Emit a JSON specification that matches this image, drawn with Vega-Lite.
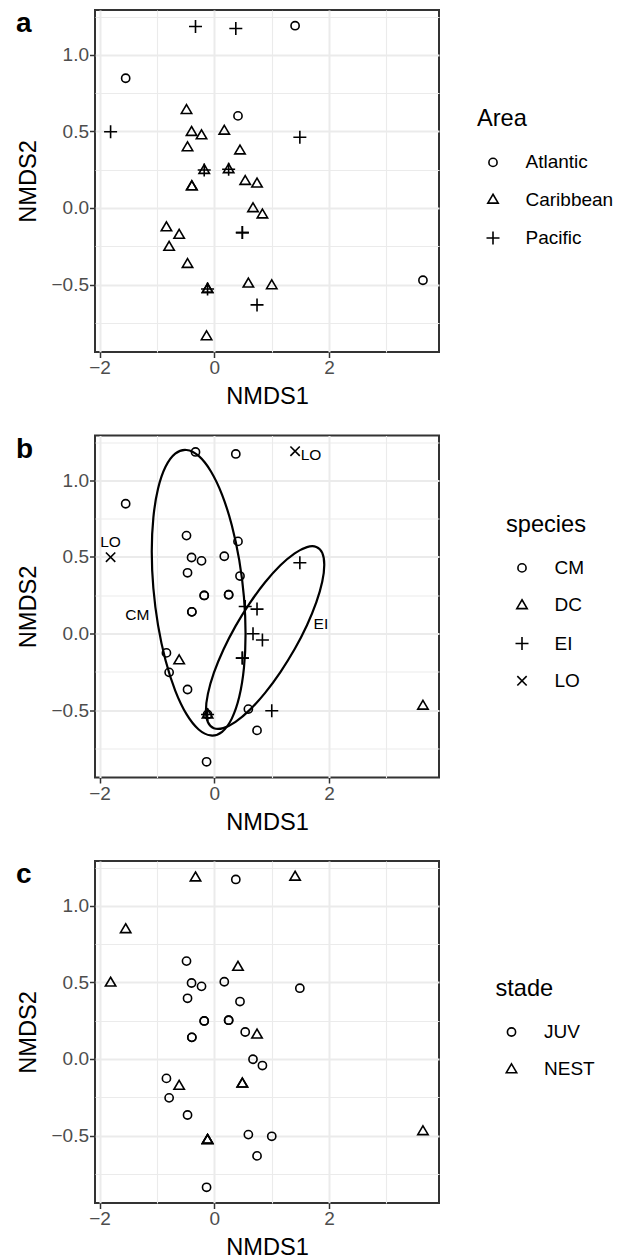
{
  "$schema": "https://vega.github.io/schema/vega-lite/v6.json",
  "background": "white",
  "padding": {"left": 15, "top": 6, "right": 0, "bottom": 0},
  "spacing": 21.5,
  "datasets": {
    "pts": [
      {"x": -0.327, "y": 1.185, "area": "Pacific", "species": "CM", "stade": "NEST"},
      {"x": 0.376, "y": 1.172, "area": "Pacific", "species": "CM", "stade": "JUV"},
      {"x": 1.41, "y": 1.19, "area": "Atlantic", "species": "LO", "stade": "NEST"},
      {"x": -1.545, "y": 0.847, "area": "Atlantic", "species": "CM", "stade": "NEST"},
      {"x": -1.808, "y": 0.498, "area": "Pacific", "species": "LO", "stade": "NEST"},
      {"x": -0.484, "y": 0.639, "area": "Caribbean", "species": "CM", "stade": "JUV"},
      {"x": 0.414, "y": 0.601, "area": "Atlantic", "species": "CM", "stade": "NEST"},
      {"x": -0.396, "y": 0.496, "area": "Caribbean", "species": "CM", "stade": "JUV"},
      {"x": -0.222, "y": 0.474, "area": "Caribbean", "species": "CM", "stade": "JUV"},
      {"x": 0.175, "y": 0.504, "area": "Caribbean", "species": "CM", "stade": "JUV"},
      {"x": 1.493, "y": 0.462, "area": "Pacific", "species": "EI", "stade": "JUV"},
      {"x": -0.466, "y": 0.396, "area": "Caribbean", "species": "CM", "stade": "JUV"},
      {"x": 0.449, "y": 0.375, "area": "Caribbean", "species": "CM", "stade": "JUV"},
      {"x": -0.175, "y": 0.248, "area": "Caribbean", "species": "CM", "stade": "JUV"},
      {"x": -0.175, "y": 0.248, "area": "Pacific", "species": "CM", "stade": "JUV"},
      {"x": 0.251, "y": 0.253, "area": "Caribbean", "species": "CM", "stade": "JUV"},
      {"x": 0.251, "y": 0.253, "area": "Pacific", "species": "CM", "stade": "JUV"},
      {"x": -0.391, "y": 0.141, "area": "Caribbean", "species": "CM", "stade": "JUV"},
      {"x": -0.391, "y": 0.141, "area": "Caribbean", "species": "CM", "stade": "JUV"},
      {"x": 0.54, "y": 0.176, "area": "Caribbean", "species": "EI", "stade": "JUV"},
      {"x": 0.746, "y": 0.159, "area": "Caribbean", "species": "EI", "stade": "NEST"},
      {"x": 0.676, "y": -0.002, "area": "Caribbean", "species": "EI", "stade": "JUV"},
      {"x": 0.84, "y": -0.043, "area": "Caribbean", "species": "EI", "stade": "JUV"},
      {"x": 0.49, "y": -0.161, "area": "Pacific", "species": "EI", "stade": "NEST"},
      {"x": 0.49, "y": -0.161, "area": "Pacific", "species": "EI", "stade": "NEST"},
      {"x": -0.834, "y": -0.127, "area": "Caribbean", "species": "CM", "stade": "JUV"},
      {"x": -0.612, "y": -0.176, "area": "Caribbean", "species": "DC", "stade": "NEST"},
      {"x": -0.787, "y": -0.254, "area": "Caribbean", "species": "CM", "stade": "JUV"},
      {"x": -0.466, "y": -0.366, "area": "Caribbean", "species": "CM", "stade": "JUV"},
      {"x": -0.117, "y": -0.529, "area": "Caribbean", "species": "CM", "stade": "NEST"},
      {"x": -0.117, "y": -0.529, "area": "Caribbean", "species": "DC", "stade": "NEST"},
      {"x": -0.117, "y": -0.529, "area": "Pacific", "species": "EI", "stade": "NEST"},
      {"x": 0.595, "y": -0.494, "area": "Caribbean", "species": "CM", "stade": "JUV"},
      {"x": 1.003, "y": -0.505, "area": "Caribbean", "species": "EI", "stade": "JUV"},
      {"x": 0.746, "y": -0.633, "area": "Pacific", "species": "CM", "stade": "JUV"},
      {"x": -0.134, "y": -0.838, "area": "Caribbean", "species": "CM", "stade": "JUV"},
      {"x": 3.64, "y": -0.472, "area": "Atlantic", "species": "DC", "stade": "NEST"}
    ],
    "ell": [
      {"grp": "CM", "i": 0, "x": 0.546, "y": -0.003},
      {"grp": "CM", "i": 1, "x": 0.518, "y": -0.225},
      {"grp": "CM", "i": 2, "x": 0.436, "y": -0.414},
      {"grp": "CM", "i": 3, "x": 0.306, "y": -0.556},
      {"grp": "CM", "i": 4, "x": 0.137, "y": -0.642},
      {"grp": "CM", "i": 5, "x": -0.06, "y": -0.666},
      {"grp": "CM", "i": 6, "x": -0.272, "y": -0.627},
      {"grp": "CM", "i": 7, "x": -0.484, "y": -0.527},
      {"grp": "CM", "i": 8, "x": -0.681, "y": -0.373},
      {"grp": "CM", "i": 9, "x": -0.85, "y": -0.175},
      {"grp": "CM", "i": 10, "x": -0.98, "y": 0.053},
      {"grp": "CM", "i": 11, "x": -1.062, "y": 0.295},
      {"grp": "CM", "i": 12, "x": -1.09, "y": 0.535},
      {"grp": "CM", "i": 13, "x": -1.062, "y": 0.757},
      {"grp": "CM", "i": 14, "x": -0.98, "y": 0.946},
      {"grp": "CM", "i": 15, "x": -0.85, "y": 1.088},
      {"grp": "CM", "i": 16, "x": -0.681, "y": 1.174},
      {"grp": "CM", "i": 17, "x": -0.484, "y": 1.198},
      {"grp": "CM", "i": 18, "x": -0.272, "y": 1.159},
      {"grp": "CM", "i": 19, "x": -0.06, "y": 1.059},
      {"grp": "CM", "i": 20, "x": 0.137, "y": 0.905},
      {"grp": "CM", "i": 21, "x": 0.306, "y": 0.707},
      {"grp": "CM", "i": 22, "x": 0.436, "y": 0.479},
      {"grp": "CM", "i": 23, "x": 0.518, "y": 0.237},
      {"grp": "EI", "i": 0, "x": 1.919, "y": 0.449},
      {"grp": "EI", "i": 1, "x": 1.884, "y": 0.339},
      {"grp": "EI", "i": 2, "x": 1.781, "y": 0.204},
      {"grp": "EI", "i": 3, "x": 1.617, "y": 0.054},
      {"grp": "EI", "i": 4, "x": 1.403, "y": -0.102},
      {"grp": "EI", "i": 5, "x": 1.154, "y": -0.252},
      {"grp": "EI", "i": 6, "x": 0.887, "y": -0.388},
      {"grp": "EI", "i": 7, "x": 0.62, "y": -0.499},
      {"grp": "EI", "i": 8, "x": 0.371, "y": -0.577},
      {"grp": "EI", "i": 9, "x": 0.157, "y": -0.618},
      {"grp": "EI", "i": 10, "x": -0.007, "y": -0.619},
      {"grp": "EI", "i": 11, "x": -0.11, "y": -0.58},
      {"grp": "EI", "i": 12, "x": -0.145, "y": -0.503},
      {"grp": "EI", "i": 13, "x": -0.11, "y": -0.393},
      {"grp": "EI", "i": 14, "x": -0.007, "y": -0.258},
      {"grp": "EI", "i": 15, "x": 0.157, "y": -0.108},
      {"grp": "EI", "i": 16, "x": 0.371, "y": 0.048},
      {"grp": "EI", "i": 17, "x": 0.62, "y": 0.198},
      {"grp": "EI", "i": 18, "x": 0.887, "y": 0.334},
      {"grp": "EI", "i": 19, "x": 1.154, "y": 0.445},
      {"grp": "EI", "i": 20, "x": 1.403, "y": 0.523},
      {"grp": "EI", "i": 21, "x": 1.617, "y": 0.564},
      {"grp": "EI", "i": 22, "x": 1.781, "y": 0.565},
      {"grp": "EI", "i": 23, "x": 1.884, "y": 0.526}
    ],
    "lab": [
      {"x": -1.808, "y": 0.598, "lab": "LO"},
      {"x": 1.688, "y": 1.163, "lab": "LO"},
      {"x": -1.341, "y": 0.12, "lab": "CM"},
      {"x": 1.86, "y": 0.063, "lab": "EI"}
    ]
  },
  "vconcat": [
    {
      "width": 344,
      "height": 342,
      "title": {"text": "a", "orient": "none", "anchor": "start", "frame": "group", "dx": -79, "dy": 22, "offset": 0, "baseline": "alphabetic"},
      "data": {"name": "pts"},
      "mark": {"type": "point", "filled": false, "color": "black", "strokeWidth": 1.6, "size": 169, "opacity": 1},
      "encoding": {
        "x": {"field": "x", "type": "quantitative", "title": "NMDS1",
          "scale": {"domain": [-2.08, 3.92], "nice": false, "zero": false},
          "axis": {"values": [-2, -1, 0, 1, 2, 3], "format": "d",
            "labelExpr": "datum.value % 2 === 0 ? datum.label : ''",
            "gridWidth": {"condition": {"test": "datum.value % 2 !== 0", "value": 1.1}, "value": 2},
            "tickOpacity": {"condition": {"test": "datum.value % 2 !== 0", "value": 0}, "value": 1}}},
        "y": {"field": "y", "type": "quantitative", "title": "NMDS2",
          "scale": {"domain": [-0.9405, 1.2925], "nice": false, "zero": false},
          "axis": {"values": [-0.75, -0.5, -0.25, 0, 0.25, 0.5, 0.75, 1, 1.25], "format": ".1f",
            "labelExpr": "abs(datum.value*2 - round(datum.value*2)) < 0.01 ? datum.label : ''",
            "gridWidth": {"condition": {"test": "abs(datum.value*2 - round(datum.value*2)) > 0.01", "value": 1.1}, "value": 2},
            "tickOpacity": {"condition": {"test": "abs(datum.value*2 - round(datum.value*2)) > 0.01", "value": 0}, "value": 1}}},
        "shape": {"field": "area", "type": "nominal",
          "scale": {"range": ["M0.63,0A0.63,0.63,0,1,1,-0.63,0A0.63,0.63,0,1,1,0.63,0Z", "M0,-0.84L0.8,0.52L-0.8,0.52Z", "M-1,0L1,0M0,-1L0,1"]},
          "legend": {"title": "Area", "legendX": 382, "legendY": 97}}
      }
    },
    {
      "width": 344,
      "height": 342,
      "title": {"text": "b", "orient": "none", "anchor": "start", "frame": "group", "dx": -79, "dy": 22, "offset": 0, "baseline": "alphabetic"},
      "encoding": {
        "x": {"field": "x", "type": "quantitative", "title": "NMDS1",
          "scale": {"domain": [-2.08, 3.92], "nice": false, "zero": false},
          "axis": {"values": [-2, -1, 0, 1, 2, 3], "format": "d",
            "labelExpr": "datum.value % 2 === 0 ? datum.label : ''",
            "gridWidth": {"condition": {"test": "datum.value % 2 !== 0", "value": 1.1}, "value": 2},
            "tickOpacity": {"condition": {"test": "datum.value % 2 !== 0", "value": 0}, "value": 1}}},
        "y": {"field": "y", "type": "quantitative", "title": "NMDS2",
          "scale": {"domain": [-0.9405, 1.2925], "nice": false, "zero": false},
          "axis": {"values": [-0.75, -0.5, -0.25, 0, 0.25, 0.5, 0.75, 1, 1.25], "format": ".1f",
            "labelExpr": "abs(datum.value*2 - round(datum.value*2)) < 0.01 ? datum.label : ''",
            "gridWidth": {"condition": {"test": "abs(datum.value*2 - round(datum.value*2)) > 0.01", "value": 1.1}, "value": 2},
            "tickOpacity": {"condition": {"test": "abs(datum.value*2 - round(datum.value*2)) > 0.01", "value": 0}, "value": 1}}}
      },
      "layer": [
        {
          "data": {"name": "pts"},
          "mark": {"type": "point", "filled": false, "color": "black", "strokeWidth": 1.6, "size": 169, "opacity": 1},
          "encoding": {
            "shape": {"field": "species", "type": "nominal",
              "scale": {"range": ["M0.63,0A0.63,0.63,0,1,1,-0.63,0A0.63,0.63,0,1,1,0.63,0Z", "M0,-0.84L0.8,0.52L-0.8,0.52Z", "M-1,0L1,0M0,-1L0,1", "M-0.72,-0.72L0.72,0.72M-0.72,0.72L0.72,-0.72"]},
              "legend": {"title": "species", "legendX": 411, "legendY": 77}}
          }
        },
        {
          "data": {"name": "ell"},
          "mark": {"type": "line", "interpolate": "cardinal-closed", "color": "black", "strokeWidth": 2.2},
          "encoding": {
            "detail": {"field": "grp", "type": "nominal"},
            "order": {"field": "i", "type": "quantitative"}
          }
        },
        {
          "data": {"name": "lab"},
          "mark": {"type": "text", "font": "Liberation Sans", "fontSize": 15.5, "color": "black"},
          "encoding": {"text": {"field": "lab", "type": "nominal"}}
        }
      ]
    },
    {
      "width": 344,
      "height": 342,
      "title": {"text": "c", "orient": "none", "anchor": "start", "frame": "group", "dx": -79, "dy": 22, "offset": 0, "baseline": "alphabetic"},
      "data": {"name": "pts"},
      "mark": {"type": "point", "filled": false, "color": "black", "strokeWidth": 1.6, "size": 169, "opacity": 1},
      "encoding": {
        "x": {"field": "x", "type": "quantitative", "title": "NMDS1",
          "scale": {"domain": [-2.08, 3.92], "nice": false, "zero": false},
          "axis": {"values": [-2, -1, 0, 1, 2, 3], "format": "d",
            "labelExpr": "datum.value % 2 === 0 ? datum.label : ''",
            "gridWidth": {"condition": {"test": "datum.value % 2 !== 0", "value": 1.1}, "value": 2},
            "tickOpacity": {"condition": {"test": "datum.value % 2 !== 0", "value": 0}, "value": 1}}},
        "y": {"field": "y", "type": "quantitative", "title": "NMDS2",
          "scale": {"domain": [-0.9405, 1.2925], "nice": false, "zero": false},
          "axis": {"values": [-0.75, -0.5, -0.25, 0, 0.25, 0.5, 0.75, 1, 1.25], "format": ".1f",
            "labelExpr": "abs(datum.value*2 - round(datum.value*2)) < 0.01 ? datum.label : ''",
            "gridWidth": {"condition": {"test": "abs(datum.value*2 - round(datum.value*2)) > 0.01", "value": 1.1}, "value": 2},
            "tickOpacity": {"condition": {"test": "abs(datum.value*2 - round(datum.value*2)) > 0.01", "value": 0}, "value": 1}}},
        "shape": {"field": "stade", "type": "nominal",
          "scale": {"range": ["M0.63,0A0.63,0.63,0,1,1,-0.63,0A0.63,0.63,0,1,1,0.63,0Z", "M0,-0.84L0.8,0.52L-0.8,0.52Z"]},
          "legend": {"title": "stade", "legendX": 400.5, "legendY": 115.6}}
      }
    }
  ],
  "resolve": {"scale": {"shape": "independent"}, "legend": {"shape": "independent"}},
  "config": {
    "font": "Liberation Sans",
    "view": {"stroke": "#333333", "strokeWidth": 2},
    "title": {"font": "Liberation Sans", "fontSize": 28, "fontWeight": "bold", "color": "black"},
    "axis": {
      "domain": false,
      "labelFont": "Liberation Sans", "labelFontSize": 19, "labelColor": "#4D4D4D", "labelPadding": 1,
      "tickColor": "#333333", "tickWidth": 1.5, "tickSize": 5.5,
      "titleFont": "Liberation Sans", "titleFontSize": 23.6, "titleFontWeight": "normal", "titleColor": "black",
      "gridColor": "#EBEBEB", "labelFlush": false, "labelOverlap": false
    },
    "axisX": {"titlePadding": 7},
    "axisY": {"titlePadding": 10},
    "legend": {
      "orient": "none", "padding": 0,
      "titleFont": "Liberation Sans", "titleFontSize": 23.6, "titleFontWeight": "normal", "titleColor": "black", "titlePadding": 22.3,
      "labelFont": "Liberation Sans", "labelFontSize": 19, "labelColor": "black", "labelOffset": 23,
      "symbolStrokeWidth": 1.6, "symbolStrokeColor": "black", "symbolFillColor": "transparent", "symbolSize": 169,
      "symbolOffset": 6.5, "rowPadding": 17.3
    }
  }
}
